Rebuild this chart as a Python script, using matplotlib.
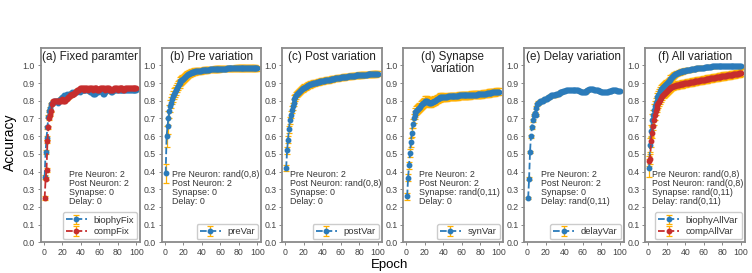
import numpy as np
import matplotlib
matplotlib.use('Agg')
import matplotlib.pyplot as plt

plt.rcParams['font.family'] = ['Liberation Sans', 'DejaVu Sans']

epochs = list(range(1, 101))

# (a) fixed parameters
biophy_fix = [0.37, 0.51, 0.59, 0.65, 0.71, 0.74, 0.76, 0.78, 0.79, 0.79,
              0.80, 0.80, 0.80, 0.80, 0.79, 0.80, 0.80, 0.81, 0.81, 0.82,
              0.82, 0.83, 0.82, 0.83, 0.84, 0.83, 0.84, 0.84, 0.84, 0.84,
              0.85, 0.84, 0.85, 0.85, 0.85, 0.85, 0.86, 0.86, 0.85, 0.86,
              0.86, 0.86, 0.86, 0.86, 0.86, 0.86, 0.86, 0.86, 0.86, 0.85,
              0.85, 0.85, 0.84, 0.84, 0.84, 0.85, 0.85, 0.85, 0.85, 0.86,
              0.86, 0.86, 0.85, 0.84, 0.84, 0.85, 0.86, 0.86, 0.86, 0.86,
              0.86, 0.86, 0.85, 0.85, 0.86, 0.86, 0.86, 0.86, 0.86, 0.86,
              0.86, 0.86, 0.86, 0.86, 0.86, 0.86, 0.86, 0.86, 0.86, 0.86,
              0.86, 0.86, 0.86, 0.86, 0.86, 0.86, 0.86, 0.86, 0.86, 0.86]
biophy_fix_err = [0.01, 0.01, 0.01, 0.008, 0.008, 0.006, 0.006, 0.005, 0.005, 0.005,
                  0.005, 0.005, 0.005, 0.005, 0.005, 0.005, 0.005, 0.005, 0.005, 0.005,
                  0.004, 0.004, 0.004, 0.004, 0.004, 0.004, 0.004, 0.004, 0.004, 0.004,
                  0.004, 0.004, 0.004, 0.004, 0.004, 0.004, 0.004, 0.004, 0.004, 0.004,
                  0.004, 0.004, 0.004, 0.004, 0.004, 0.004, 0.004, 0.004, 0.004, 0.004,
                  0.004, 0.004, 0.004, 0.004, 0.004, 0.004, 0.004, 0.004, 0.004, 0.004,
                  0.004, 0.004, 0.004, 0.004, 0.004, 0.004, 0.004, 0.004, 0.004, 0.004,
                  0.004, 0.004, 0.004, 0.004, 0.004, 0.004, 0.004, 0.004, 0.004, 0.004,
                  0.004, 0.004, 0.004, 0.004, 0.004, 0.004, 0.004, 0.004, 0.004, 0.004,
                  0.004, 0.004, 0.004, 0.004, 0.004, 0.004, 0.004, 0.004, 0.004, 0.004]
comp_fix = [0.25, 0.36, 0.41, 0.57, 0.65, 0.70, 0.72, 0.74, 0.78, 0.80,
            0.80, 0.80, 0.80, 0.80, 0.80, 0.80, 0.80, 0.80, 0.80, 0.81,
            0.80, 0.80, 0.80, 0.81, 0.81, 0.82, 0.82, 0.83, 0.83, 0.83,
            0.84, 0.84, 0.84, 0.85, 0.85, 0.86, 0.86, 0.86, 0.87, 0.87,
            0.87, 0.87, 0.87, 0.86, 0.87, 0.87, 0.87, 0.86, 0.87, 0.87,
            0.87, 0.87, 0.86, 0.87, 0.87, 0.87, 0.87, 0.86, 0.86, 0.86,
            0.87, 0.87, 0.87, 0.87, 0.87, 0.86, 0.87, 0.87, 0.87, 0.87,
            0.86, 0.86, 0.86, 0.86, 0.86, 0.87, 0.87, 0.87, 0.87, 0.86,
            0.87, 0.87, 0.87, 0.87, 0.87, 0.86, 0.86, 0.87, 0.87, 0.87,
            0.87, 0.87, 0.87, 0.87, 0.87, 0.87, 0.87, 0.87, 0.87, 0.87]
comp_fix_err = biophy_fix_err

# (b) pre variation
pre_var = [0.39, 0.60, 0.655, 0.705, 0.74, 0.77, 0.79, 0.81, 0.825, 0.84,
           0.85, 0.86, 0.875, 0.885, 0.895, 0.90, 0.91, 0.915, 0.92, 0.925,
           0.93, 0.935, 0.94, 0.945, 0.95, 0.953, 0.955, 0.958, 0.96, 0.962,
           0.963, 0.965, 0.966, 0.967, 0.968, 0.969, 0.97, 0.97, 0.971, 0.972,
           0.972, 0.973, 0.973, 0.974, 0.975, 0.975, 0.976, 0.976, 0.977, 0.977,
           0.978, 0.978, 0.978, 0.979, 0.979, 0.98, 0.98, 0.98, 0.98, 0.981,
           0.981, 0.981, 0.982, 0.982, 0.982, 0.982, 0.983, 0.983, 0.983, 0.983,
           0.983, 0.984, 0.984, 0.984, 0.984, 0.984, 0.985, 0.985, 0.985, 0.985,
           0.985, 0.985, 0.985, 0.985, 0.985, 0.986, 0.986, 0.986, 0.985, 0.985,
           0.985, 0.985, 0.986, 0.986, 0.985, 0.985, 0.985, 0.985, 0.984, 0.984]
pre_var_err = [0.055, 0.06, 0.045, 0.04, 0.035, 0.035, 0.03, 0.03, 0.03, 0.03,
               0.028, 0.028, 0.026, 0.026, 0.025, 0.025, 0.024, 0.024, 0.023, 0.023,
               0.022, 0.022, 0.021, 0.021, 0.02, 0.02, 0.02, 0.019, 0.019, 0.019,
               0.018, 0.018, 0.018, 0.018, 0.017, 0.017, 0.017, 0.017, 0.017, 0.016,
               0.016, 0.016, 0.016, 0.016, 0.016, 0.016, 0.015, 0.015, 0.015, 0.015,
               0.015, 0.015, 0.015, 0.015, 0.015, 0.015, 0.015, 0.015, 0.015, 0.015,
               0.015, 0.015, 0.015, 0.015, 0.015, 0.015, 0.015, 0.015, 0.015, 0.015,
               0.015, 0.015, 0.015, 0.015, 0.015, 0.015, 0.015, 0.015, 0.015, 0.015,
               0.015, 0.015, 0.015, 0.015, 0.015, 0.015, 0.015, 0.015, 0.015, 0.015,
               0.015, 0.015, 0.015, 0.015, 0.015, 0.015, 0.015, 0.015, 0.015, 0.015]

# (c) post variation
post_var = [0.42, 0.52, 0.58, 0.64, 0.69, 0.72, 0.75, 0.77, 0.79, 0.81,
            0.82, 0.83, 0.84, 0.845, 0.85, 0.855, 0.86, 0.865, 0.87, 0.875,
            0.877, 0.88, 0.883, 0.886, 0.888, 0.89, 0.892, 0.894, 0.896, 0.898,
            0.90, 0.901, 0.903, 0.904, 0.905, 0.907, 0.908, 0.909, 0.91, 0.912,
            0.913, 0.914, 0.915, 0.916, 0.917, 0.918, 0.919, 0.92, 0.921, 0.922,
            0.923, 0.924, 0.925, 0.926, 0.927, 0.928, 0.929, 0.93, 0.931, 0.932,
            0.932, 0.933, 0.934, 0.935, 0.936, 0.936, 0.937, 0.938, 0.938, 0.939,
            0.94, 0.94, 0.941, 0.942, 0.942, 0.943, 0.943, 0.944, 0.944, 0.945,
            0.945, 0.946, 0.946, 0.947, 0.947, 0.948, 0.948, 0.948, 0.949, 0.949,
            0.95, 0.95, 0.95, 0.951, 0.951, 0.951, 0.952, 0.952, 0.953, 0.953]
post_var_err = [0.015, 0.02, 0.02, 0.02, 0.02, 0.02, 0.02, 0.02, 0.02, 0.02,
                0.02, 0.02, 0.018, 0.018, 0.018, 0.018, 0.018, 0.018, 0.018, 0.018,
                0.017, 0.017, 0.017, 0.017, 0.017, 0.017, 0.017, 0.017, 0.017, 0.017,
                0.016, 0.016, 0.016, 0.016, 0.016, 0.016, 0.016, 0.016, 0.016, 0.016,
                0.016, 0.016, 0.016, 0.016, 0.016, 0.016, 0.016, 0.016, 0.016, 0.016,
                0.015, 0.015, 0.015, 0.015, 0.015, 0.015, 0.015, 0.015, 0.015, 0.015,
                0.015, 0.015, 0.015, 0.015, 0.015, 0.015, 0.015, 0.015, 0.015, 0.015,
                0.015, 0.015, 0.015, 0.015, 0.015, 0.015, 0.015, 0.015, 0.015, 0.015,
                0.015, 0.015, 0.015, 0.015, 0.015, 0.015, 0.015, 0.015, 0.015, 0.015,
                0.015, 0.015, 0.015, 0.015, 0.015, 0.015, 0.015, 0.015, 0.015, 0.015]

# (d) synapse variation
syn_var = [0.26, 0.365, 0.435, 0.505, 0.565, 0.62, 0.67, 0.70, 0.72, 0.735,
           0.745, 0.75, 0.755, 0.76, 0.765, 0.775, 0.78, 0.785, 0.79, 0.80,
           0.80, 0.80, 0.795, 0.795, 0.79, 0.79, 0.79, 0.795, 0.795, 0.80,
           0.80, 0.805, 0.81, 0.81, 0.815, 0.815, 0.82, 0.82, 0.82, 0.82,
           0.82, 0.82, 0.82, 0.82, 0.825, 0.825, 0.825, 0.825, 0.825, 0.825,
           0.825, 0.825, 0.825, 0.825, 0.825, 0.825, 0.83, 0.83, 0.83, 0.83,
           0.83, 0.83, 0.83, 0.83, 0.83, 0.83, 0.83, 0.832, 0.832, 0.833,
           0.833, 0.834, 0.834, 0.835, 0.835, 0.835, 0.836, 0.836, 0.837, 0.837,
           0.838, 0.838, 0.839, 0.84, 0.84, 0.841, 0.842, 0.843, 0.844, 0.845,
           0.845, 0.846, 0.847, 0.848, 0.848, 0.849, 0.85, 0.85, 0.851, 0.852]
syn_var_err = [0.02, 0.02, 0.02, 0.025, 0.025, 0.025, 0.025, 0.025, 0.025, 0.025,
               0.025, 0.025, 0.025, 0.025, 0.025, 0.025, 0.025, 0.025, 0.025, 0.025,
               0.025, 0.025, 0.025, 0.025, 0.025, 0.025, 0.025, 0.025, 0.025, 0.025,
               0.022, 0.022, 0.022, 0.022, 0.022, 0.022, 0.022, 0.022, 0.022, 0.022,
               0.02, 0.02, 0.02, 0.02, 0.02, 0.02, 0.02, 0.02, 0.02, 0.02,
               0.02, 0.02, 0.02, 0.02, 0.02, 0.02, 0.02, 0.02, 0.02, 0.02,
               0.02, 0.02, 0.02, 0.02, 0.02, 0.02, 0.02, 0.02, 0.02, 0.02,
               0.02, 0.02, 0.02, 0.02, 0.02, 0.02, 0.02, 0.02, 0.02, 0.02,
               0.02, 0.02, 0.02, 0.02, 0.02, 0.02, 0.02, 0.02, 0.02, 0.02,
               0.02, 0.02, 0.02, 0.02, 0.02, 0.02, 0.02, 0.02, 0.02, 0.02]

# (e) delay variation
delay_var = [0.25, 0.36, 0.51, 0.60, 0.65, 0.69, 0.72, 0.73, 0.72, 0.76,
             0.78, 0.79, 0.79, 0.80, 0.80, 0.80, 0.80, 0.81, 0.81, 0.81,
             0.81, 0.82, 0.82, 0.82, 0.82, 0.83, 0.83, 0.83, 0.83, 0.83,
             0.84, 0.84, 0.84, 0.84, 0.85, 0.85, 0.85, 0.85, 0.855, 0.855,
             0.855, 0.86, 0.86, 0.86, 0.86, 0.86, 0.86, 0.86, 0.86, 0.86,
             0.86, 0.86, 0.86, 0.86, 0.86, 0.855, 0.855, 0.85, 0.85, 0.85,
             0.85, 0.85, 0.85, 0.855, 0.86, 0.86, 0.865, 0.865, 0.865, 0.865,
             0.865, 0.86, 0.86, 0.86, 0.86, 0.86, 0.855, 0.855, 0.855, 0.85,
             0.85, 0.85, 0.85, 0.85, 0.85, 0.85, 0.85, 0.855, 0.855, 0.855,
             0.855, 0.86, 0.86, 0.86, 0.86, 0.86, 0.855, 0.855, 0.855, 0.855]
delay_var_err = [0.008, 0.008, 0.008, 0.008, 0.008, 0.008, 0.008, 0.008, 0.008, 0.008,
                 0.007, 0.007, 0.007, 0.007, 0.007, 0.007, 0.007, 0.007, 0.007, 0.007,
                 0.006, 0.006, 0.006, 0.006, 0.006, 0.006, 0.006, 0.006, 0.006, 0.006,
                 0.006, 0.006, 0.006, 0.006, 0.006, 0.006, 0.006, 0.006, 0.006, 0.006,
                 0.006, 0.006, 0.006, 0.006, 0.006, 0.006, 0.006, 0.006, 0.006, 0.006,
                 0.006, 0.006, 0.006, 0.006, 0.006, 0.006, 0.006, 0.006, 0.006, 0.006,
                 0.006, 0.006, 0.006, 0.006, 0.006, 0.006, 0.006, 0.006, 0.006, 0.006,
                 0.006, 0.006, 0.006, 0.006, 0.006, 0.006, 0.006, 0.006, 0.006, 0.006,
                 0.006, 0.006, 0.006, 0.006, 0.006, 0.006, 0.006, 0.006, 0.006, 0.006,
                 0.006, 0.006, 0.006, 0.006, 0.006, 0.006, 0.006, 0.006, 0.006, 0.006]

# (f) all variation
biophy_all = [0.42, 0.55, 0.63, 0.69, 0.72, 0.75, 0.77, 0.79, 0.80, 0.82,
              0.83, 0.84, 0.855, 0.865, 0.875, 0.88, 0.885, 0.89, 0.895, 0.90,
              0.905, 0.91, 0.915, 0.925, 0.93, 0.935, 0.94, 0.945, 0.95, 0.953,
              0.955, 0.957, 0.96, 0.962, 0.964, 0.966, 0.967, 0.968, 0.97, 0.971,
              0.972, 0.973, 0.974, 0.975, 0.976, 0.977, 0.978, 0.979, 0.98, 0.981,
              0.982, 0.983, 0.984, 0.985, 0.985, 0.986, 0.986, 0.987, 0.988, 0.988,
              0.989, 0.99, 0.99, 0.991, 0.992, 0.992, 0.993, 0.993, 0.994, 0.994,
              0.995, 0.995, 0.995, 0.996, 0.996, 0.996, 0.996, 0.997, 0.996, 0.996,
              0.996, 0.997, 0.996, 0.996, 0.995, 0.996, 0.996, 0.997, 0.996, 0.996,
              0.996, 0.996, 0.997, 0.996, 0.995, 0.996, 0.996, 0.996, 0.995, 0.995]
biophy_all_err = [0.05, 0.04, 0.035, 0.035, 0.03, 0.03, 0.03, 0.028, 0.028, 0.026,
                  0.025, 0.025, 0.024, 0.023, 0.022, 0.022, 0.021, 0.02, 0.02, 0.02,
                  0.019, 0.019, 0.018, 0.018, 0.017, 0.017, 0.016, 0.016, 0.015, 0.015,
                  0.015, 0.014, 0.014, 0.014, 0.013, 0.013, 0.013, 0.012, 0.012, 0.012,
                  0.012, 0.011, 0.011, 0.011, 0.011, 0.01, 0.01, 0.01, 0.01, 0.01,
                  0.01, 0.01, 0.01, 0.009, 0.009, 0.009, 0.009, 0.009, 0.009, 0.009,
                  0.008, 0.008, 0.008, 0.008, 0.008, 0.008, 0.008, 0.008, 0.008, 0.008,
                  0.007, 0.007, 0.007, 0.007, 0.007, 0.007, 0.007, 0.007, 0.007, 0.007,
                  0.007, 0.007, 0.007, 0.007, 0.007, 0.007, 0.007, 0.007, 0.007, 0.007,
                  0.007, 0.007, 0.007, 0.007, 0.007, 0.007, 0.007, 0.007, 0.007, 0.007]
comp_all = [0.46, 0.47, 0.57, 0.62, 0.66, 0.69, 0.72, 0.745, 0.76, 0.775,
            0.785, 0.795, 0.805, 0.815, 0.825, 0.835, 0.84, 0.845, 0.85, 0.855,
            0.86, 0.865, 0.87, 0.873, 0.876, 0.879, 0.882, 0.884, 0.886, 0.888,
            0.889, 0.89, 0.891, 0.892, 0.893, 0.894, 0.895, 0.896, 0.898, 0.899,
            0.90, 0.901, 0.902, 0.903, 0.904, 0.905, 0.906, 0.907, 0.908, 0.909,
            0.91, 0.911, 0.912, 0.913, 0.914, 0.915, 0.916, 0.917, 0.918, 0.919,
            0.92, 0.921, 0.922, 0.923, 0.924, 0.925, 0.926, 0.927, 0.928, 0.929,
            0.93, 0.931, 0.932, 0.933, 0.934, 0.935, 0.936, 0.937, 0.938, 0.939,
            0.94, 0.94, 0.941, 0.942, 0.943, 0.943, 0.944, 0.945, 0.946, 0.947,
            0.948, 0.949, 0.95, 0.951, 0.952, 0.953, 0.954, 0.955, 0.956, 0.958]
comp_all_err = [0.03, 0.03, 0.03, 0.03, 0.028, 0.028, 0.026, 0.026, 0.025, 0.025,
                0.024, 0.024, 0.023, 0.023, 0.022, 0.022, 0.022, 0.021, 0.021, 0.021,
                0.02, 0.02, 0.02, 0.02, 0.02, 0.02, 0.02, 0.02, 0.02, 0.02,
                0.02, 0.02, 0.02, 0.02, 0.02, 0.02, 0.02, 0.02, 0.02, 0.02,
                0.02, 0.02, 0.02, 0.02, 0.02, 0.02, 0.02, 0.02, 0.02, 0.02,
                0.02, 0.02, 0.02, 0.02, 0.02, 0.02, 0.02, 0.02, 0.02, 0.02,
                0.02, 0.02, 0.02, 0.02, 0.02, 0.02, 0.02, 0.02, 0.02, 0.02,
                0.02, 0.02, 0.02, 0.02, 0.02, 0.02, 0.02, 0.02, 0.02, 0.02,
                0.02, 0.02, 0.02, 0.02, 0.02, 0.02, 0.02, 0.02, 0.02, 0.02,
                0.02, 0.02, 0.02, 0.02, 0.02, 0.02, 0.02, 0.02, 0.02, 0.02]

titles = ['(a) Fixed paramter', '(b) Pre variation', '(c) Post variation',
          '(d) Synapse\nvariation', '(e) Delay variation', '(f) All variation']
notes = ['Pre Neuron: 2\nPost Neuron: 2\nSynapse: 0\nDelay: 0',
         'Pre Neuron: rand(0,8)\nPost Neuron: 2\nSynapse: 0\nDelay: 0',
         'Pre Neuron: 2\nPost Neuron: rand(0,8)\nSynapse: 0\nDelay: 0',
         'Pre Neuron: 2\nPost Neuron: 2\nSynapse: rand(0,11)\nDelay: 0',
         'Pre Neuron: 2\nPost Neuron: 2\nSynapse: 0\nDelay: rand(0,11)',
         'Pre Neuron: rand(0,8)\nPost Neuron: rand(0,8)\nSynapse: rand(0,11)\nDelay: rand(0,11)']
series = [[('biophyFix', biophy_fix, biophy_fix_err), ('compFix', comp_fix, comp_fix_err)],
          [('preVar', pre_var, pre_var_err)],
          [('postVar', post_var, post_var_err)],
          [('synVar', syn_var, syn_var_err)],
          [('delayVar', delay_var, delay_var_err)],
          [('biophyAllVar', biophy_all, biophy_all_err), ('compAllVar', comp_all, comp_all_err)]]

BLUE = '#2b7bba'
RED = '#c62d2d'
ORANGE = '#ffb000'

W, H = 752, 273
fig = plt.figure(figsize=(W / 100, H / 100), dpi=100)
lefts = [40.5, 161.5, 282, 403, 524, 645]
note_x = [0.29, 0.11, 0.085, 0.165, 0.175, 0.07]
for i, left in enumerate(lefts):
    ax = fig.add_axes([left / W, (H - 242.3) / H, 99.5 / W, 194.6 / H])
    for j, (name, vals, errs) in enumerate(series[i]):
        ax.errorbar(epochs, vals, yerr=errs, fmt='o--', color=BLUE if j == 0 else RED,
                    ecolor=ORANGE, elinewidth=0.9, capsize=2.5, capthick=0.9,
                    markersize=3.2, linewidth=1.3, label=name)
    ax.set_xlim(-3.5, 104)
    ax.set_ylim(0, 1.1)
    ax.set_xticks([0, 20, 40, 60, 80, 100])
    ax.set_yticks(np.arange(0, 1.01, 0.1))
    ax.set_yticklabels([f'{v:.1f}' for v in np.arange(0, 1.01, 0.1)])
    ax.tick_params(labelsize=6.3, colors='#444444', length=2.5, width=0.7, pad=1.5)
    ax.tick_params(axis='both', color='#888888')
    for sp in ax.spines.values():
        sp.set_color('#8a8a8a')
        sp.set_linewidth(1.3)
    ax.text(0.5, 0.985, titles[i], transform=ax.transAxes, ha='center', va='top',
            fontsize=8.4, color='#222222', linespacing=1.0)
    ax.text(note_x[i], 0.37, notes[i], transform=ax.transAxes, ha='left', va='top',
            fontsize=6.4, color='#333333', linespacing=1.0)
    leg = ax.legend(loc='lower right', fontsize=6.8, handlelength=2.2, borderpad=0.35,
                    labelspacing=0.25, handletextpad=0.7, borderaxespad=0.3,
                    framealpha=1.0, edgecolor='#cccccc')
    for t in leg.get_texts():
        t.set_color('#333333')

fig.text(10 / W, 1 - 142 / H, 'Accuracy', rotation=90, ha='center', va='center', fontsize=10)
fig.text(390 / W, 1 - 265 / H, 'Epoch', ha='center', va='center', fontsize=9.5)

fig.savefig('out.png', dpi=100)
